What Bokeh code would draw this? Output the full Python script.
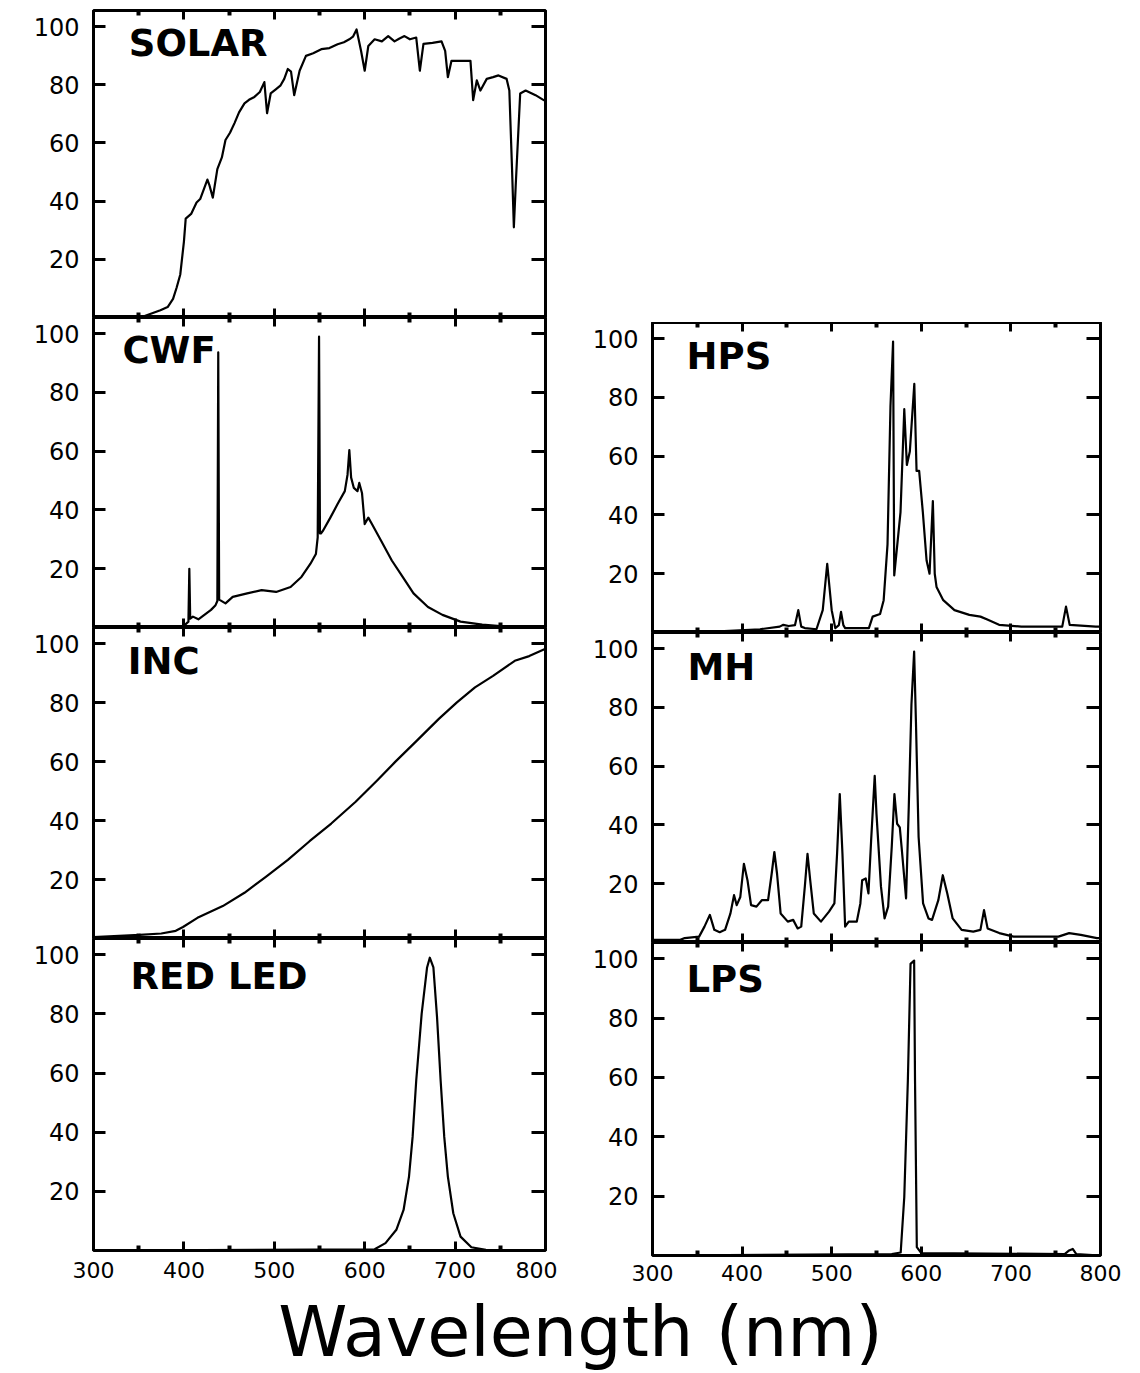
from bokeh.plotting import figure
from bokeh.models import Range1d, FixedTicker, LinearAxis, Label, Spacer
from bokeh.layouts import column, row
from bokeh.embed import file_html
from bokeh.resources import INLINE

# ---------------- data ----------------
X_TICKS = [300, 400, 500, 600, 700, 800]
X_MINOR = [350, 450, 550, 650, 750]
Y_TICKS = [20, 40, 60, 80, 100]

SOLAR_WL = [300, 352, 374, 382, 388, 392, 396, 400, 402, 408,
            414, 418, 426, 428, 432, 437, 442, 446, 451, 456,
            461, 467, 472, 478, 484, 489, 492, 496, 502, 507,
            511, 515, 518.5, 522, 528, 535, 543, 552, 561, 570,
            577, 583, 587, 591, 596, 600, 604, 611, 619, 626,
            633, 638, 644, 650, 657, 661, 665, 675, 685, 689,
            692, 696, 707, 717, 720, 724, 728, 735, 742, 748,
            757, 760, 763, 765, 767, 772, 778, 789, 798, 800]
SOLAR_VAL = [0, 0, 2.5, 3.6, 6.4, 10.3, 14.8, 26, 34, 35.6,
             39.5, 40.7, 47.4, 45.7, 41.2, 51, 55, 61, 63.5, 66.8,
             70.5, 73.6, 74.8, 75.8, 77.5, 80.9, 70.2, 77, 78.5, 79.8,
             82, 85.4, 84.5, 76.4, 84.8, 89.9, 90.8, 92.2, 92.6, 93.9,
             94.6, 95.6, 96.5, 99, 91.6, 84.8, 93.3, 95.6, 94.9, 96.7,
             94.9, 95.8, 96.7, 95.6, 96.2, 84.8, 94, 94.4, 94.9, 91.6,
             82.6, 88.2, 88.2, 88.2, 74.7, 81.5, 78, 82, 82.6, 83.2,
             82, 78, 51, 31, 45, 77, 78, 76.4, 74.7, 74.4]

CWF_WL = [300, 398, 405, 406, 407, 410, 416, 430, 435, 437,
          438, 439, 440, 446, 454, 470, 486, 502, 518, 530,
          540, 546, 548, 549.5, 550.5, 551.5, 554, 562, 570, 578,
          581, 583, 585, 588, 592, 594, 597, 600, 604, 608,
          618, 630, 642, 654, 670, 686, 706, 730, 750, 800]
CWF_VAL = [0, 0, 2, 20, 3, 3.7, 2.8, 6, 7.6, 9,
           93.6, 9.5, 9.3, 8.2, 10.4, 11.6, 12.7, 12.1, 13.8, 17.2,
           21.7, 25, 30.7, 99, 32, 32, 33, 37.4, 42, 46.4,
           52, 60.4, 51, 47.5, 46.4, 49.2, 45.8, 35.2, 37.4, 35.2,
           29.6, 22.8, 17.2, 11.6, 7, 4.3, 2, 1, 0.5, 0.5]

INC_WL = [300, 351, 375, 391, 399, 415, 443, 467, 491, 515,
          539, 563, 590, 614, 634, 658, 682, 702, 722, 742,
          766, 782, 800]
INC_VAL = [0.5, 1.2, 1.7, 2.6, 3.9, 7, 11, 15.5, 21, 26.7,
           33, 39, 46.4, 53.7, 60, 67.2, 74.5, 80.1, 85.2, 89.1,
           94.2, 95.8, 98.3]

LED_WL = [300, 611, 623, 635, 643, 649, 653, 657, 663, 669,
          672, 676, 680, 684, 688, 692, 698, 706, 718, 734, 800]
LED_VAL = [0, 0.4, 2.5, 7, 13.7, 25, 38.4, 57.5, 80, 95.7,
           99, 95.7, 79, 57.5, 38.4, 25, 12.6, 4.7, 1.1, 0.2, 0]

HPS_WL = [300, 380, 420, 442, 446, 452, 459, 462.7, 466, 470,
          483, 490, 495, 500, 504, 508, 510.4, 513, 515, 541.5,
          545.7, 554, 558, 562.3, 565.6, 568.5, 569.8, 576.8, 581, 583.9,
          587.2, 592.2, 594.7, 597.6, 601.7, 605.9, 609.2, 612.9, 615, 617,
          624.5, 637, 653.6, 666, 674.3, 686.8, 711.7, 757.3, 761.5, 765.6,
          794.7, 800]
HPS_VAL = [0, 0.5, 1.1, 2, 2.6, 2.2, 2.5, 7.6, 2, 1.5,
           1.1, 7.6, 23.4, 7.6, 1.5, 2.5, 7, 2.5, 1.5, 1.5,
           5.4, 6.3, 11, 30, 77, 99, 19.4, 41, 76, 57,
           61.6, 84.6, 55, 55, 41, 24.5, 20, 44.7, 20, 15.5,
           11, 7.6, 6, 5.4, 4.3, 2.6, 2, 2, 8.8, 2.6,
           2, 2]

MH_WL = [300, 331, 336, 352, 358, 364, 369, 375, 381, 387,
         391, 394, 398, 402, 406, 410, 416, 422, 429, 433,
         436, 439, 443, 451, 457, 462, 466, 470, 473, 476,
         480, 488, 497, 503, 506, 509, 512, 515, 519, 528,
         532, 534, 538, 541, 544, 548, 550, 555, 559, 563,
         567, 570, 573, 576, 578, 583, 586, 589, 592, 594,
         597, 602, 608, 612, 619, 624, 629, 635, 645, 658,
         666, 670, 674, 687, 703, 736, 753, 765, 778, 796,
         800]
MH_VAL = [0.9, 0.9, 1.5, 2, 5.4, 9.4, 4.3, 3.5, 4.3, 9.9,
          16.1, 12.7, 15.5, 26.8, 21.2, 12.7, 12.2, 14.4, 14.4, 23.4,
          30.8, 23.4, 9.9, 7.1, 7.7, 4.8, 5.4, 19, 30.2, 21.2,
          9.9, 7.1, 10.5, 13.3, 30.2, 50.5, 30.2, 5.4, 7.1, 7.1,
          13.3, 21.2, 21.8, 16.7, 34.7, 56.7, 43.7, 19, 8.2, 12.2,
          32.5, 50.5, 40.4, 39.2, 32.5, 15, 46, 81, 99, 75.3,
          35.9, 13.3, 8.2, 7.7, 14.4, 22.9, 16.7, 8.2, 4.3, 3.7,
          4.3, 11, 4.8, 3.2, 2, 2, 2, 3.2, 2.6, 1.5,
          1.5]

LPS_WL = [300, 567, 577, 581, 585, 588, 592, 593, 595, 600, 760, 765, 769, 773, 800]
LPS_VAL = [0, 0.5, 1, 19.7, 59, 98.3, 99.4, 59, 2.8, 0.8, 0.5, 1.7, 2.2, 0.5, 0]

# ---------------- styling / layout ----------------
TICK_FONT = "DejaVu Sans"
NAME_FONT = "DejaVu Sans"
Y_TOP = 105.5


def blank_labels(ax, ticks):
    ax.major_label_overrides = {t: "" for t in ticks}
    ax.major_label_text_font_size = "0px"
    ax.major_label_standoff = 0


def make_panel(name, wl, val, w, h, bl, br, bt, bb, xlabels, xstand, name_x, name_y):
    p = figure(width=w, height=h, x_range=Range1d(300, 800), y_range=Range1d(0, Y_TOP),
               output_backend="svg", toolbar_location=None,
               x_axis_location=None, y_axis_location=None,
               min_border_left=bl, min_border_right=br,
               min_border_top=bt, min_border_bottom=bb)
    p.xgrid.visible = False
    p.ygrid.visible = False
    p.outline_line_color = "black"
    p.outline_line_width = 3
    p.background_fill_color = "white"
    p.border_fill_color = "white"

    p.line(wl, val, line_color="black", line_width=2.2, line_join="round")

    # y axes (left with labels, right ticks only)
    for side, tin in (("left", 12), ("right", 14)):
        ax = LinearAxis(ticker=FixedTicker(ticks=Y_TICKS), axis_line_color=None,
                        major_tick_in=tin, major_tick_out=0,
                        minor_tick_in=0, minor_tick_out=0,
                        major_tick_line_width=3, major_tick_line_color="black")
        if side == "left":
            ax.major_label_text_font = TICK_FONT
            ax.major_label_text_font_size = "24px"
            ax.major_label_text_color = "black"
            ax.major_label_standoff = 14
        else:
            blank_labels(ax, Y_TICKS)
        p.add_layout(ax, side)

    # x axes (top and bottom ticks pointing inward)
    for side in ("above", "below"):
        ax = LinearAxis(ticker=FixedTicker(ticks=X_TICKS, minor_ticks=X_MINOR),
                        axis_line_color=None,
                        major_tick_in=9, major_tick_out=0,
                        minor_tick_in=5, minor_tick_out=0,
                        major_tick_line_width=3, minor_tick_line_width=4,
                        major_tick_line_color="black", minor_tick_line_color="black")
        if side == "below" and xlabels:
            ax.major_label_text_font = TICK_FONT
            ax.major_label_text_font_size = "22px"
            ax.major_label_text_color = "black"
            ax.major_label_standoff = xstand
        else:
            blank_labels(ax, X_TICKS)
        p.add_layout(ax, side)

    p.add_layout(Label(x=name_x, y=name_y, text=name, text_font=NAME_FONT,
                       text_font_style="bold", text_font_size="37px",
                       text_color="black", text_baseline="middle"))
    return p


LW, RW = 557, 583
left_panels = [
    make_panel("SOLAR", SOLAR_WL, SOLAR_VAL, LW, 317, 93, 12, 10, 0, False, 0, 339, 94.0),
    make_panel("CWF", CWF_WL, CWF_VAL, LW, 310, 93, 12, 0, 0, False, 0, 332, 94.4),
    make_panel("INC", INC_WL, INC_VAL, LW, 311, 93, 12, 0, 0, False, 0, 338, 94.1),
    make_panel("RED LED", LED_WL, LED_VAL, LW, 352, 93, 12, 0, 40, True, 11, 341, 92.5),
]
right_panels = [
    make_panel("HPS", HPS_WL, HPS_VAL, RW, 310, 95, 40, 0, 0, False, 0, 338, 93.9),
    make_panel("MH", MH_WL, MH_VAL, RW, 310, 95, 40, 0, 0, False, 0, 339, 93.6),
    make_panel("LPS", LPS_WL, LPS_VAL, RW, 348, 95, 40, 0, 35, True, 9, 338, 92.9),
]

title = figure(width=1140, height=83, x_range=Range1d(0, 1140), y_range=Range1d(0, 83),
               output_backend="svg", toolbar_location=None,
               x_axis_location=None, y_axis_location=None,
               min_border_left=0, min_border_right=0, min_border_top=0, min_border_bottom=0)
title.xgrid.visible = False
title.ygrid.visible = False
title.outline_line_color = None
title.add_layout(Label(x=580, y=41.5, text="Wavelength (nm)", text_align="center",
                       text_baseline="middle", text_font="DejaVu Sans",
                       text_font_size="70px", text_color="black"))

layout = column(
    row(column(*left_panels), column(Spacer(width=RW, height=322), *right_panels)),
    title,
)

open("out.html", "w").write(file_html(layout, INLINE))
